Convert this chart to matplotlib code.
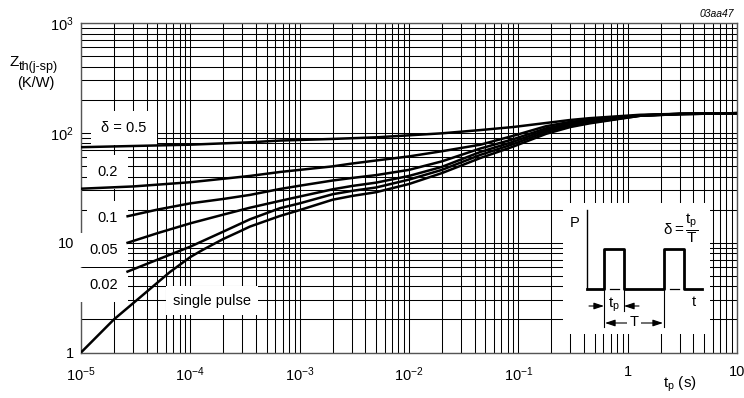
import numpy as np
import matplotlib
matplotlib.use("Agg")
import matplotlib.pyplot as plt
from matplotlib.ticker import LogLocator, NullFormatter, FixedLocator, FixedFormatter

plt.rcParams['font.family'] = ['Liberation Sans', 'DejaVu Sans']
plt.rcParams['mathtext.fontset'] = 'custom'
plt.rcParams['mathtext.rm'] = 'Liberation Sans'
plt.rcParams['mathtext.it'] = 'Liberation Sans:italic'
plt.rcParams['mathtext.sf'] = 'Liberation Sans'

# ---- data (tp in s, Zth in K/W) ----
t_single = [1e-5, 1.5e-5, 2e-5, 3.5e-5, 6.5e-5, 1e-4, 1.3e-4, 2e-4, 2.8e-4, 3.5e-4,
            6.6e-4, 1e-3, 2e-3, 3e-3, 5e-3, 1e-2, 2e-2, 4.5e-2, 9e-2, 0.18, 0.3, 0.45, 1.3, 3, 10]
z_single = [1.0, 1.5, 2.0, 3.2, 5.4, 7.4, 8.6, 10.8, 12.6, 14.0,
            17.5, 19.8, 24.6, 26.6, 28.8, 34.2, 43, 59, 75, 98, 113, 122, 143, 148, 151]

t_d002 = [2.6e-5, 5e-5, 1e-4, 2e-4, 3.5e-4, 6.6e-4, 1e-3, 2e-3, 3e-3, 5e-3, 1e-2, 2e-2,
          4.5e-2, 9e-2, 0.18, 0.3, 0.45, 1.3, 3, 10]
z_d002 = [5.4, 7.0, 9.2, 12.6, 16.3, 20.6, 22.8, 27.6, 29.6, 31.8, 37.5, 46,
          63, 79, 102, 116, 124, 143, 148, 151]

t_d005 = [2.6e-5, 5e-5, 1e-4, 2e-4, 3.5e-4, 6.6e-4, 1e-3, 2e-3, 3e-3, 5e-3, 1e-2, 2e-2,
          4.5e-2, 9e-2, 0.18, 0.3, 0.45, 1.3, 3, 10]
z_d005 = [9.9, 12.2, 15.0, 18.0, 20.8, 24, 26.3, 30.6, 32.8, 35.2, 40.5, 49,
          67, 83, 106, 119, 126, 144, 148, 151]

t_d01 = [2.6e-5, 5e-5, 1e-4, 2e-4, 3.5e-4, 6.6e-4, 1e-3, 2e-3, 3e-3, 5e-3, 1e-2, 2e-2,
         4.5e-2, 9e-2, 0.18, 0.3, 0.45, 1.3, 3, 10]
z_d01 = [17.3, 20.0, 22.8, 25.0, 27.2, 30.8, 33, 36.8, 38.8, 41.2, 46, 55,
         72, 87.5, 110, 122, 128, 144, 149, 151]

t_d02 = [1e-5, 3e-5, 1e-4, 3.5e-4, 6.6e-4, 1e-3, 2e-3, 3e-3, 5e-3, 1e-2, 2e-2,
         4.5e-2, 9e-2, 0.18, 0.3, 0.45, 1.3, 3, 10]
z_d02 = [31, 32.5, 35.5, 40.5, 44, 46, 49.5, 52.5, 56, 61, 68,
         78, 94, 115, 126, 131, 144, 149, 151]

t_d05 = [1e-5, 1e-4, 3.5e-4, 6.6e-4, 2e-3, 5e-3, 2e-2, 4.5e-2, 9e-2, 0.18, 0.3, 0.45, 1.3, 3, 10]
z_d05 = [74, 78, 82, 85, 88, 91, 99, 106, 113, 123, 131, 136, 146, 149, 151]

curves = [(t_d05, z_d05), (t_d02, z_d02), (t_d01, z_d01),
          (t_d005, z_d005), (t_d002, z_d002), (t_single, z_single)]

x_ticks = [1e-5, 1e-4, 1e-3, 1e-2, 1e-1, 1, 10]
x_labels = [r'$\mathregular{10^{-5}}$', r'$\mathregular{10^{-4}}$', r'$\mathregular{10^{-3}}$',
            r'$\mathregular{10^{-2}}$', r'$\mathregular{10^{-1}}$', '1', '10']
y_ticks = [1, 10, 100, 1000]
y_labels = ['1', '10', r'$\mathregular{10^{2}}$', r'$\mathregular{10^{3}}$']

W, H = 744, 398
fig = plt.figure(figsize=(W / 100, H / 100), dpi=100)
# axes placed in pixel terms: x 81..737, y 23..352.5
ax = fig.add_axes([81 / W, 1 - 352.5 / H, 656 / W, 329.5 / H])
ax.set_xscale('log')
ax.set_yscale('log')
ax.set_xlim(1e-5, 10)
ax.set_ylim(1, 1000)

ax.xaxis.set_major_locator(FixedLocator(x_ticks))
ax.xaxis.set_major_formatter(FixedFormatter(x_labels))
ax.yaxis.set_major_locator(FixedLocator(y_ticks))
ax.yaxis.set_major_formatter(FixedFormatter(y_labels))
ax.xaxis.set_minor_locator(LogLocator(base=10, subs=np.arange(2, 10), numticks=100))
ax.yaxis.set_minor_locator(LogLocator(base=10, subs=np.arange(2, 10), numticks=100))
ax.xaxis.set_minor_formatter(NullFormatter())
ax.yaxis.set_minor_formatter(NullFormatter())
ax.tick_params(which='both', length=0, labelsize=10.5)
ax.tick_params(axis='x', pad=9)
ax.tick_params(axis='y', pad=5)
ax.grid(True, which='both', color='black', lw=0.75)
ax.set_axisbelow(True)
for s in ax.spines.values():
    s.set_color('#555555')
    s.set_linewidth(1.0)

for t, z in curves:
    ax.plot(t, z, color='black', lw=1.8, zorder=5, solid_capstyle='butt',
            solid_joinstyle='round')

# curve labels with white boxes that break the grid
box = dict(boxstyle='square,pad=0.7', fc='white', ec='none')
ax.text(2.18e-5 * 1.82, 111, u'\u03b4 = 0.5', fontsize=10.5, ha='right', va='center', bbox=box, zorder=4)
for lab, z in [('0.2', 44), ('0.1', 16.8), ('0.05', 8.6), ('0.02', 4.12)]:
    ax.text(2.18e-5, z, lab, fontsize=10.5, ha='right', va='center', bbox=box, zorder=4)
ax.text(1.58e-4, 2.96, 'single pulse', fontsize=10.5, ha='center', va='center',
        bbox=dict(boxstyle='square,pad=0.5', fc='white', ec='none'), zorder=4)

# axis titles
fig.text(10 / W, 1 - 62 / H, 'Z', fontsize=11, ha='left', va='center')
fig.text(19 / W, 1 - 67 / H, 'th(j-sp)', fontsize=9, ha='left', va='center')
fig.text(36 / W, 1 - 83 / H, '(K/W)', fontsize=10.5, ha='center', va='center')
fig.text(680 / W, 1 - 384 / H, r'$\mathregular{t_p}$ (s)', fontsize=11, ha='center', va='center')
fig.text(734 / W, 1 - 14 / H, '03aa47', fontsize=7.5, style='italic', ha='right', va='center')

# inset: pulse diagram drawn in its own pixel frame
L, T, R, B = 563, 203, 710, 334
ins = fig.add_axes([L / W, 1 - B / H, (R - L) / W, (B - T) / H], zorder=6)
ins.set_xlim(L, R)
ins.set_ylim(B, T)
ins.axis('off')
ins.add_patch(plt.Rectangle((L, T), R - L, B - T, fc='white', ec='none'))
ins.plot([587, 587], [210, 289], color='black', lw=1.0)
ins.plot([587, 604, 604, 624, 624, 664, 664, 684, 684, 702],
         [289, 289, 249, 249, 289, 289, 249, 249, 289, 289], color='black', lw=2.0)
ins.plot([610, 619], [289, 289], color='black', lw=0.9)
ins.plot([670, 679], [289, 289], color='black', lw=0.9)
ins.plot([604, 604], [289, 327], color='black', lw=0.8)
ins.plot([624, 624], [289, 311], color='black', lw=0.8)
ins.plot([664, 664], [289, 327], color='black', lw=0.8)
arr = dict(arrowstyle='-|>,head_length=0.6,head_width=0.2', color='black', lw=0.8,
           shrinkA=0, shrinkB=0)
ins.annotate('', xy=(604, 306), xytext=(589, 306), arrowprops=arr)
ins.annotate('', xy=(624, 306), xytext=(639, 306), arrowprops=arr)
ins.annotate('', xy=(605, 323), xytext=(634, 323), arrowprops=arr)
ins.annotate('', xy=(663, 323), xytext=(634, 323), arrowprops=arr)
ins.text(614, 305, r'$\mathregular{t_p}$', fontsize=11, ha='center', va='center')
ins.text(634, 322, 'T', fontsize=10.5, ha='center', va='center',
         bbox=dict(boxstyle='square,pad=0.15', fc='white', ec='none'))
ins.text(694, 302, 't', fontsize=10.5, ha='center', va='center')
ins.text(575, 223, 'P', fontsize=10.5, ha='center', va='center')
ins.text(681, 228, r'$\mathregular{\delta = \dfrac{t_p}{T}}$', fontsize=11, ha='center', va='center')

fig.savefig('out.png', dpi=100)
